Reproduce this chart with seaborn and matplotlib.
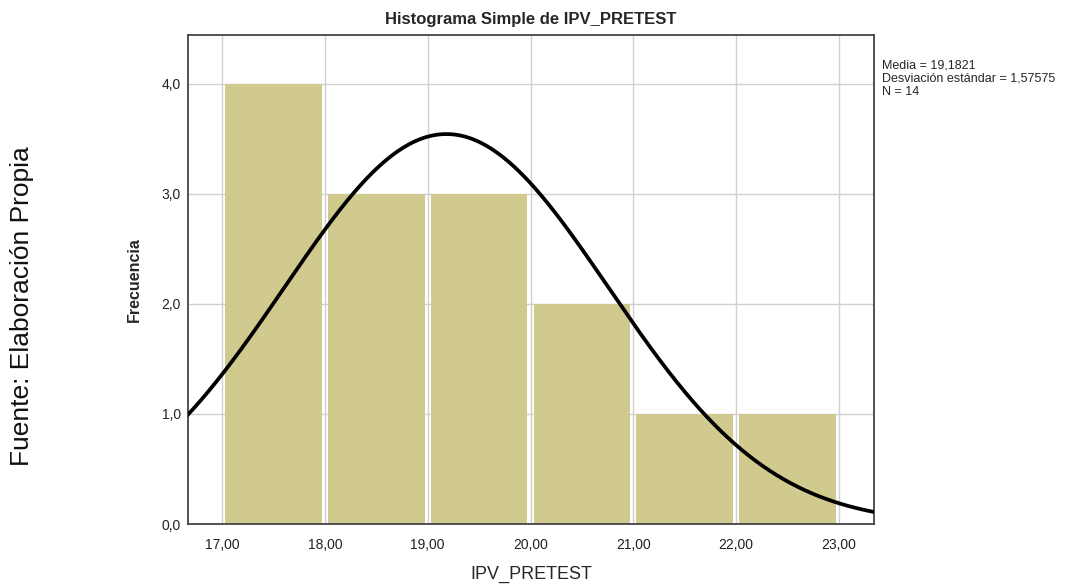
import numpy as np
import pandas as pd
import matplotlib
matplotlib.use("Agg")
import matplotlib.pyplot as plt
import seaborn as sns
from matplotlib.ticker import FuncFormatter

# Data
bin_edges = [17.0, 18.0, 19.0, 20.0, 21.0, 22.0, 23.0]
counts = [4, 3, 3, 2, 1, 1]
mean_val = 19.1821
std_val = 1.57575
n_val = 14
x_ticks = [17, 18, 19, 20, 21, 22, 23]
y_ticks = [0, 1, 2, 3, 4]

sns.set_theme(style="white")
plt.rcParams['font.family'] = ['Liberation Sans', 'DejaVu Sans']

fig = plt.figure(figsize=(10.69, 5.86), dpi=100)
ax = fig.add_axes([0.1759, 0.1058, 0.6417, 0.8345])

centers = [(a + b) / 2 for a, b in zip(bin_edges[:-1], bin_edges[1:])]
df = pd.DataFrame({"IPV_PRETEST": centers, "w": counts})
sns.histplot(data=df, x="IPV_PRETEST", weights="w", bins=bin_edges, ax=ax,
             color="#D0CA8F", alpha=1, linewidth=0, shrink=0.94, zorder=2)

xs = np.linspace(16.6, 23.4, 400)
bw = bin_edges[1] - bin_edges[0]
ys = n_val * bw / (std_val * np.sqrt(2 * np.pi)) * np.exp(-0.5 * ((xs - mean_val) / std_val) ** 2)
sns.lineplot(x=xs, y=ys, ax=ax, color="black", linewidth=2.7, zorder=3)

ax.set_xlim(16.67, 23.34)
ax.set_ylim(0, 4.445)
ax.set_xticks(x_ticks)
ax.set_yticks(y_ticks)
ax.xaxis.set_major_formatter(FuncFormatter(lambda v, p: f"{v:.2f}".replace(".", ",")))
ax.yaxis.set_major_formatter(FuncFormatter(lambda v, p: f"{v:.1f}".replace(".", ",")))
ax.tick_params(axis="both", length=0, labelsize=10, colors="#222222")
ax.tick_params(axis="x", pad=10)
ax.tick_params(axis="y", pad=5)
ax.grid(True, color="#D0D0D0", linewidth=1.0, zorder=0)
ax.set_axisbelow(True)
for s in ax.spines.values():
    s.set_color("#444444")
    s.set_linewidth(1.3)

ax.set_title("Histograma Simple de IPV_PRETEST", fontsize=12, fontweight="bold", pad=8)
ax.set_xlabel("IPV_PRETEST", fontsize=13, labelpad=10)
ax.set_ylabel("Frecuencia", fontsize=11.5, fontweight="bold", labelpad=14)

fig.text(882 / 1069, 1 - 60 / 586, f"Media = {mean_val:.4f}".replace(".", ",") + "\n"
         + f"Desviación estándar = {std_val:.5f}".replace(".", ",") + "\n" + f"N = {n_val}",
         fontsize=9, va="top", ha="left", linespacing=1.1)

fig.text(22 / 1069, 1 - 306 / 586, "Fuente: Elaboración Propia", rotation=90,
         fontsize=19, va="center", ha="center", color="#111111")

fig.savefig("out.png", dpi=100)
